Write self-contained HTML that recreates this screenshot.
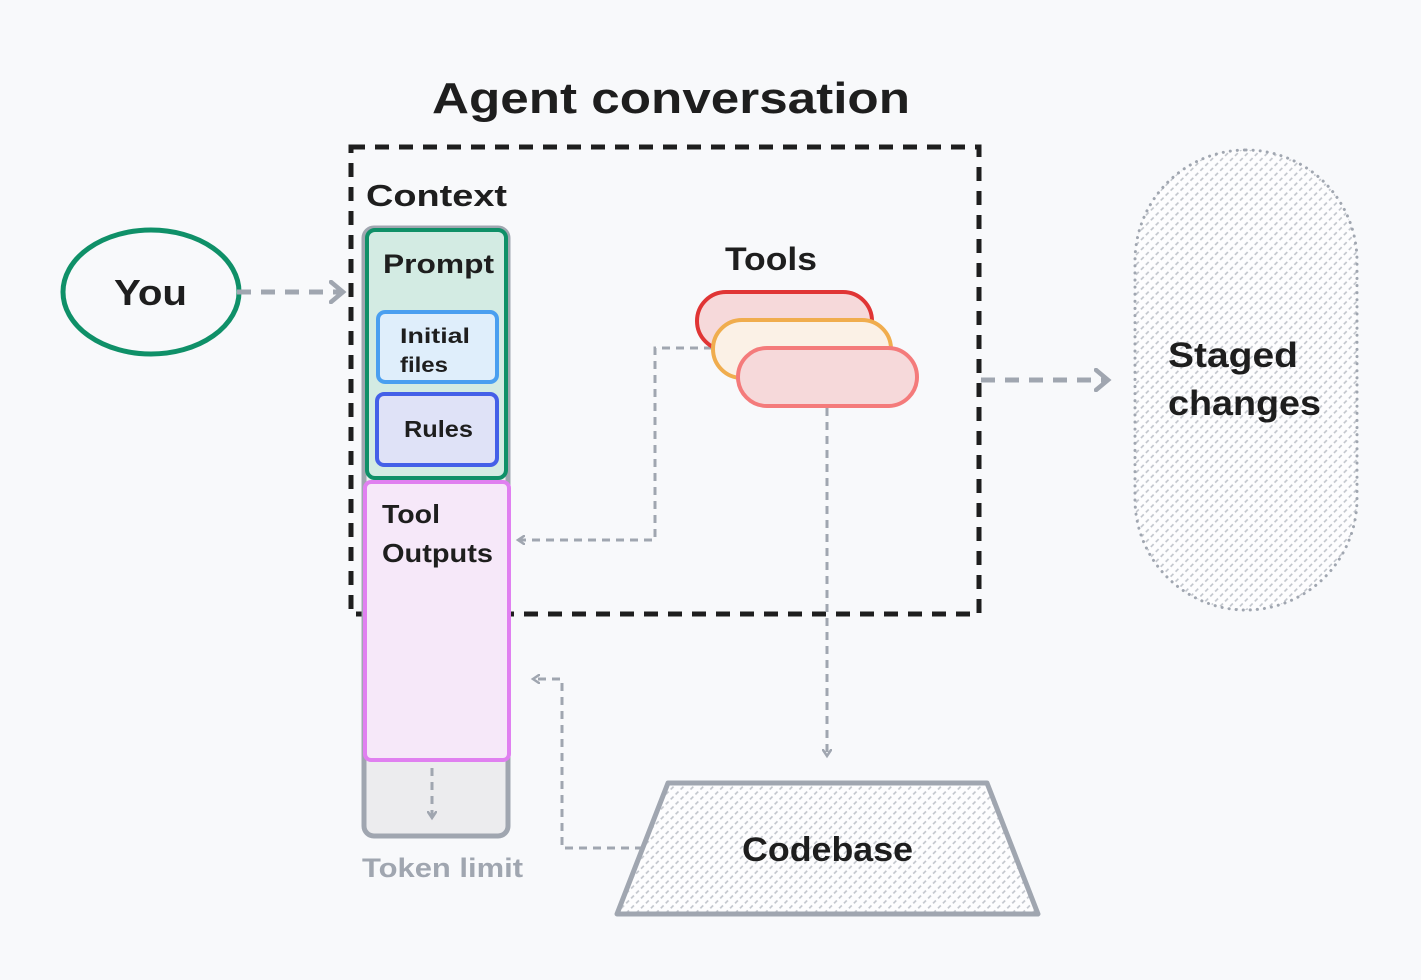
<!DOCTYPE html>
<html><head><meta charset="utf-8"><style>
html,body{margin:0;padding:0;background:#f8f9fb;}
svg{display:block}
text{font-family:"Liberation Sans",sans-serif;font-weight:bold;fill:#1e1e1e}
</style></head><body>
<svg width="1421" height="980" viewBox="0 0 1421 980" xmlns="http://www.w3.org/2000/svg">
<defs>
<pattern id="h" width="7" height="7" patternUnits="userSpaceOnUse" patternTransform="rotate(-45)">
<rect width="7" height="7" fill="#fdfdfe"/>
<line x1="0" y1="3.5" x2="4" y2="3.5" stroke="#bfc3ca" stroke-width="1.6"/>
</pattern>
<marker id="a" markerWidth="10" markerHeight="10" refX="7" refY="5" orient="auto" markerUnits="userSpaceOnUse"><path d="M1,1 L7,5 L1,9" fill="none" stroke="#a0a6b0" stroke-width="2.5" stroke-linecap="round"/></marker>
<marker id="b" markerWidth="20" markerHeight="24" refX="14" refY="12" orient="auto" markerUnits="userSpaceOnUse"><path d="M2,2 L14,12 L2,22" fill="none" stroke="#a0a6b0" stroke-width="4.5" stroke-linecap="round"/></marker>
</defs>
<rect width="1421" height="980" fill="#f8f9fb"/>
<text x="432" y="113" font-size="44" textLength="478" lengthAdjust="spacingAndGlyphs">Agent conversation</text>
<rect x="351" y="147" width="628" height="467" fill="none" stroke="#1e1e1e" stroke-width="5" stroke-dasharray="14 10"/>
<text x="366" y="206" font-size="31" textLength="141" lengthAdjust="spacingAndGlyphs">Context</text>
<rect x="364" y="228" width="144" height="608" rx="10" fill="#ececee" stroke="#a0a6b0" stroke-width="5"/>
<rect x="367" y="230" width="139" height="248" rx="8" fill="#d3ebe3" stroke="#0f9068" stroke-width="4"/>
<text x="383" y="273" font-size="27" textLength="111" lengthAdjust="spacingAndGlyphs">Prompt</text>
<rect x="378" y="312" width="119" height="70" rx="7" fill="#dfeefb" stroke="#4a9ff0" stroke-width="4"/>
<text x="400" y="343" font-size="21" textLength="70" lengthAdjust="spacingAndGlyphs">Initial</text>
<text x="400" y="372" font-size="21" textLength="48" lengthAdjust="spacingAndGlyphs">files</text>
<rect x="377" y="394" width="120" height="71" rx="7" fill="#dfe2f7" stroke="#4460e8" stroke-width="4"/>
<text x="404" y="437" font-size="23" textLength="69" lengthAdjust="spacingAndGlyphs">Rules</text>
<rect x="365" y="482" width="144" height="278" rx="6" fill="#f6e8f9" stroke="#e080f0" stroke-width="4"/>
<text x="382" y="523" font-size="26" textLength="58" lengthAdjust="spacingAndGlyphs">Tool</text>
<text x="382" y="562" font-size="26" textLength="111" lengthAdjust="spacingAndGlyphs">Outputs</text>
<line x1="432" y1="768" x2="432" y2="818" stroke="#a0a6b0" stroke-width="3" stroke-dasharray="8 6" marker-end="url(#a)"/>
<text x="362" y="877" font-size="27" style="fill:#a0a6b0" textLength="161" lengthAdjust="spacingAndGlyphs">Token limit</text>
<ellipse cx="151" cy="292" rx="88" ry="62" fill="none" stroke="#0f9068" stroke-width="5"/>
<text x="114" y="305" font-size="36" textLength="73" lengthAdjust="spacingAndGlyphs">You</text>
<line x1="237" y1="292" x2="343" y2="292" stroke="#a0a6b0" stroke-width="5" stroke-dasharray="14 10" marker-end="url(#b)"/>
<text x="725" y="270" font-size="32" textLength="92" lengthAdjust="spacingAndGlyphs">Tools</text>
<path d="M712,348 L655,348 L655,540 L518,540" fill="none" stroke="#a0a6b0" stroke-width="3" stroke-dasharray="8 6" marker-end="url(#a)"/>
<rect x="697" y="292" width="175" height="58" rx="29" fill="#f6d9da" stroke="#e03535" stroke-width="4"/>
<rect x="713" y="320" width="178" height="58" rx="29" fill="#fbf1e6" stroke="#f0ad4e" stroke-width="4"/>
<rect x="738" y="348" width="179" height="58" rx="29" fill="#f6d9da" stroke="#f47b7b" stroke-width="4"/>
<line x1="827" y1="408" x2="827" y2="756" stroke="#a0a6b0" stroke-width="3" stroke-dasharray="8 6" marker-end="url(#a)"/>
<path d="M643,848 L562,848 L562,679 L533,679" fill="none" stroke="#a0a6b0" stroke-width="3" stroke-dasharray="8 6" marker-end="url(#a)"/>
<path d="M668,783 L987,783 L1038,914 L617,914 Z" fill="url(#h)" stroke="#a0a6b0" stroke-width="5" stroke-linejoin="round"/>
<text x="742" y="861" font-size="34" textLength="171" lengthAdjust="spacingAndGlyphs">Codebase</text>
<line x1="981" y1="380" x2="1108" y2="380" stroke="#a0a6b0" stroke-width="5" stroke-dasharray="14 10" marker-end="url(#b)"/>
<rect x="1135" y="150" width="222" height="460" rx="111" fill="url(#h)" stroke="#a0a6b0" stroke-width="3" stroke-dasharray="0.1 7" stroke-linecap="round"/>
<text x="1168" y="367" font-size="35" textLength="130" lengthAdjust="spacingAndGlyphs">Staged</text>
<text x="1168" y="415" font-size="35" textLength="153" lengthAdjust="spacingAndGlyphs">changes</text>
</svg>
</body></html>
